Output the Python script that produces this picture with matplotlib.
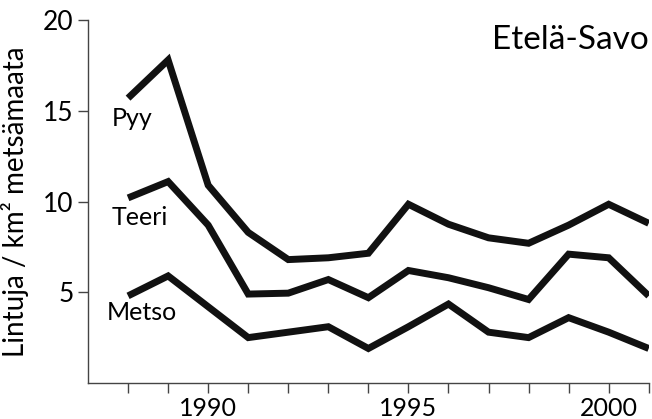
import matplotlib.pyplot as plt

# Data (birds per km² of forest land, Etelä-Savo)
years = list(range(1988, 2002))
pyy = [15.7, 17.8, 10.9, 8.3, 6.8, 6.9, 7.15, 9.85, 8.75, 8.0, 7.7, 8.7, 9.85, 8.8]
teeri = [10.2, 11.1, 8.7, 4.9, 4.95, 5.7, 4.7, 6.2, 5.8, 5.25, 4.6, 7.1, 6.9, 4.8]
metso = [4.8, 5.9, 4.2, 2.5, 2.8, 3.1, 1.9, 3.1, 4.35, 2.8, 2.5, 3.6, 2.8, 1.9]

plt.rcParams['font.family'] = ['Lato', 'DejaVu Sans']

fig = plt.figure(figsize=(6.52, 4.19), dpi=100)
ax = fig.add_axes([0.135, 0.086, 0.86, 0.866])

for vals in (pyy, teeri, metso):
    ax.plot(years, vals, color='#111111', lw=5, solid_joinstyle='miter', solid_capstyle='butt')

ax.text(1988.1, 14.6, 'Pyy', fontsize=18, ha='center', va='center')
ax.text(1988.3, 9.1, 'Teeri', fontsize=18, ha='center', va='center')
ax.text(1988.35, 3.9, 'Metso', fontsize=18, ha='center', va='center')
ax.text(2001, 18.9, 'Etelä-Savo', fontsize=24, ha='right', va='center')

ax.set_xlim(1987, 2001)
ax.set_ylim(0, 20)
ax.set_xticks(range(1988, 2002))
ax.set_xticklabels([str(y) if y % 5 == 0 else '' for y in years])
ax.set_yticks([5, 10, 15, 20])
ax.tick_params(labelsize=19, length=7, width=1, color='#444444', direction='out')
ax.tick_params(axis='x', labelsize=18, pad=3)
ax.set_ylabel('Lintuja / km² metsämaata', fontsize=20, labelpad=10)

for s in ('top', 'right'):
    ax.spines[s].set_visible(False)
for s in ('left', 'bottom'):
    ax.spines[s].set_color('#444444')
    ax.spines[s].set_linewidth(1)

fig.savefig('out.png', dpi=100)
